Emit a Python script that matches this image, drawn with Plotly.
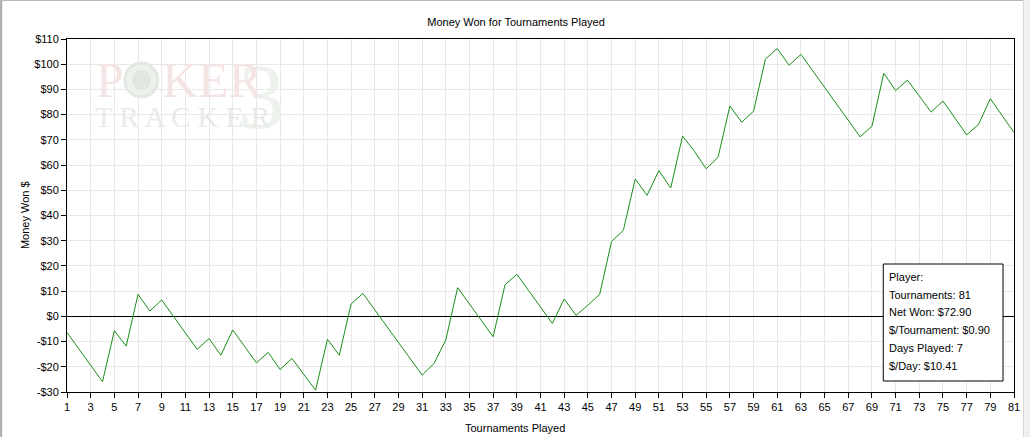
import plotly.graph_objects as go

# ---- data ----
tournaments = list(range(1, 82))
money_won = [
    -6.4, -12.9, -19.4, -25.9, -5.7, -11.8, 8.7, 2.1, 6.5, 0.0,
    -6.5, -13.1, -8.8, -15.4, -5.4, -11.9, -18.4, -14.3, -21.1, -16.7,
    -23.0, -29.3, -9.1, -15.4, 4.9, 9.1, 2.6, -3.9, -10.4, -16.8,
    -23.3, -18.7, -9.4, 11.4, 4.9, -1.6, -8.1, 12.5, 16.7, 10.2,
    3.7, -2.8, 6.9, 0.4, 4.4, 8.7, 29.7, 34.1, 54.5, 48.0,
    57.8, 50.9, 71.5, 65.5, 58.5, 63.1, 83.4, 77.0, 81.4, 102.0,
    106.2, 99.6, 103.9, 97.4, 90.8, 84.3, 77.9, 71.2, 75.4, 96.4,
    89.6, 93.7, 87.4, 81.0, 85.4, 78.7, 72.0, 76.1, 86.3, 79.6,
    72.9,
]
x_ticks = list(range(1, 82, 2))
y_ticks = list(range(-30, 111, 10))
y_ticktext = [("-$%d" % -v) if v < 0 else ("$%d" % v) for v in y_ticks]
stats_lines = [
    "Player:",
    "Tournaments: 81",
    "Net Won: $72.90",
    "$/Tournament: $0.90",
    "Days Played: 7",
    "$/Day: $10.41",
]

W, H = 1032, 437
L, R, T, B = 67, 1016, 39, 392
FONT = "Liberation Sans"


def xp(px):
    return (px - L) / (R - L)


def yp(py):
    return (B - py) / (B - T)


fig = go.Figure()
fig.add_trace(go.Scatter(
    x=tournaments, y=money_won, mode="lines",
    line=dict(color="#1a8f1a", width=1),
    hoverinfo="x+y", showlegend=False,
))

fig.update_layout(
    width=W, height=H,
    margin=dict(l=L, r=W - R, t=T, b=H - B, pad=0),
    paper_bgcolor="white", plot_bgcolor="white",
    font=dict(family=FONT, size=11, color="black"),
    title=dict(text="Money Won for Tournaments Played", x=0.5, xref="container",
               y=1 - 22 / H, yref="container", xanchor="center", yanchor="middle",
               font=dict(family=FONT, size=11, color="black")),
    showlegend=False,
)
fig.update_xaxes(
    range=[1, 81], tickmode="array", tickvals=x_ticks,
    showgrid=True, gridcolor="#e8e8e8", gridwidth=1,
    showline=True, linecolor="black", linewidth=1, mirror=True,
    ticks="outside", ticklen=5, tickcolor="black", tickwidth=1,
    tickfont=dict(family=FONT, size=11, color="black"),
    zeroline=False,
)
fig.update_yaxes(
    range=[-30, 110], tickmode="array", tickvals=y_ticks, ticktext=y_ticktext,
    showgrid=True, gridcolor="#e8e8e8", gridwidth=1,
    showline=True, linecolor="black", linewidth=1, mirror=True,
    ticks="outside", ticklen=5, tickcolor="black", tickwidth=1,
    tickfont=dict(family=FONT, size=11, color="black"),
    zeroline=True, zerolinecolor="black", zerolinewidth=1,
)

annotations = []
# axis titles
annotations.append(dict(text="Tournaments Played", xref="paper", yref="paper",
                        x=xp(516), y=yp(428), showarrow=False,
                        xanchor="center", yanchor="middle",
                        font=dict(family=FONT, size=11, color="black")))
annotations.append(dict(text="Money Won $", xref="paper", yref="paper",
                        x=xp(25), y=yp(215), showarrow=False, textangle=-90,
                        xanchor="center", yanchor="middle",
                        font=dict(family=FONT, size=11, color="black")))

# watermark
annotations.append(dict(text="3", xref="paper", yref="paper", x=xp(236), y=yp(96),
                        showarrow=False, xanchor="left", yanchor="middle",
                        font=dict(family="Liberation Serif", size=94, color="#edf2ed")))
annotations.append(dict(text="P", xref="paper", yref="paper", x=xp(94), y=yp(80),
                        showarrow=False, xanchor="left", yanchor="middle",
                        font=dict(family="Liberation Serif", size=50, color="#f4e4e4")))
annotations.append(dict(text="KER", xref="paper", yref="paper", x=xp(160), y=yp(80),
                        showarrow=False, xanchor="left", yanchor="middle",
                        font=dict(family="Liberation Serif", size=50, color="#f4e4e4")))
annotations.append(dict(text="T R A C K E R", xref="paper", yref="paper", x=xp(93), y=yp(117),
                        showarrow=False, xanchor="left", yanchor="middle",
                        font=dict(family="Liberation Serif", size=29, color="#e8eae8")))

# stats box text
line_y = [277, 294.5, 312, 330, 348, 366]
for txt, py in zip(stats_lines, line_y):
    annotations.append(dict(text=txt, xref="paper", yref="paper", x=xp(889), y=yp(py),
                            showarrow=False, xanchor="left", yanchor="middle",
                            font=dict(family=FONT, size=11, color="black")))
fig.update_layout(annotations=annotations)

shapes = []
# poker chip of the watermark
shapes.append(dict(type="circle", xref="paper", yref="paper",
                   x0=xp(125), x1=xp(158), y0=yp(97), y1=yp(63),
                   line=dict(color="#e2e9e2", width=3), fillcolor="#ecf1ec", layer="above"))
shapes.append(dict(type="circle", xref="paper", yref="paper",
                   x0=xp(131), x1=xp(152), y0=yp(91), y1=yp(69),
                   line=dict(color="#f6f8f6", width=1), fillcolor="#e0e8e0", layer="above"))
# stats box
shapes.append(dict(type="rect", xref="paper", yref="paper",
                   x0=xp(885), x1=xp(1005), y0=yp(381), y1=yp(264),
                   line=dict(color="black", width=1), fillcolor="white", layer="above"))
# outer window border
shapes.append(dict(type="rect", xref="paper", yref="paper",
                   x0=xp(0), x1=xp(2), y0=yp(H), y1=yp(0),
                   line=dict(width=0), fillcolor="#a8a8a8", layer="above"))
shapes.append(dict(type="line", xref="paper", yref="paper",
                   x0=xp(0), x1=xp(W), y0=yp(0.5), y1=yp(0.5),
                   line=dict(color="#b8b8b8", width=1), layer="above"))
shapes.append(dict(type="rect", xref="paper", yref="paper",
                   x0=xp(1025), x1=xp(W), y0=yp(H), y1=yp(0),
                   line=dict(width=0), fillcolor="#f0f0f0", layer="above"))
shapes.append(dict(type="line", xref="paper", yref="paper",
                   x0=xp(1025.5), x1=xp(1025.5), y0=yp(H), y1=yp(0),
                   line=dict(color="#d8d8d8", width=1), layer="above"))
fig.update_layout(shapes=shapes)

fig.write_html(
    "out.html",
    config={"displayModeBar": False},
    post_script="document.body.style.margin='0';document.body.style.padding='0';"
                "document.body.style.overflow='hidden';",
)
